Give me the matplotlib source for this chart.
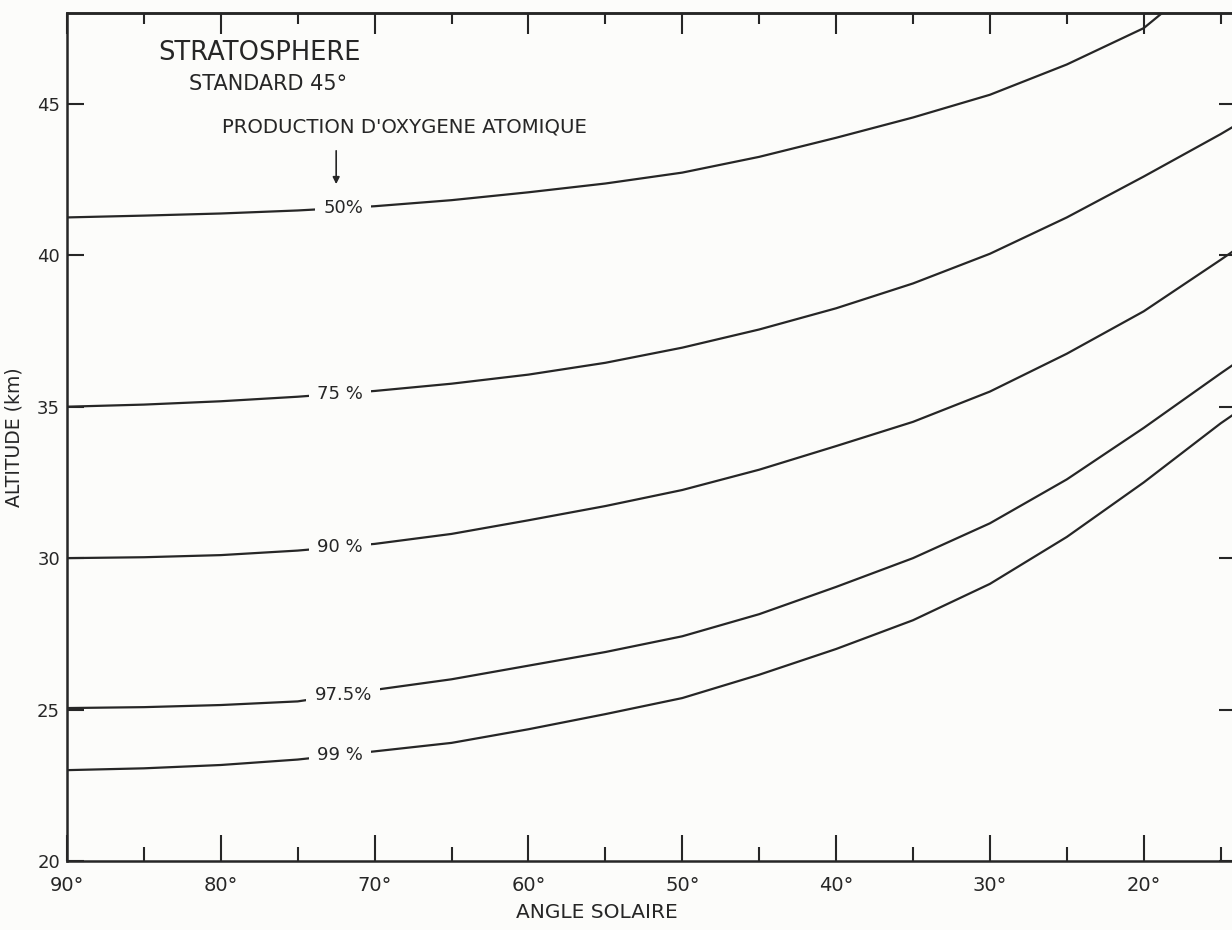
import numpy as np
import matplotlib
matplotlib.use("Agg")
import matplotlib.pyplot as plt

# ---- data ----
angles = [90, 85, 80, 75, 70, 65, 60, 55, 50, 45, 40, 35, 30, 25, 20, 18.8, 15, 14]
alt_50 = [41.25, 41.31, 41.38, 41.48, 41.62, 41.82, 42.08, 42.37, 42.73, 43.25, 43.88, 44.55,
          45.3, 46.3, 47.5, 48.0, None, None]
alt_75 = [35.0, 35.07, 35.18, 35.33, 35.52, 35.76, 36.06, 36.45, 36.95, 37.55, 38.25, 39.07,
          40.05, 41.25, 42.6, None, 44.0, 44.3]
alt_90 = [30.0, 30.03, 30.1, 30.25, 30.47, 30.8, 31.25, 31.72, 32.25, 32.92, 33.7, 34.5,
          35.5, 36.75, 38.15, None, 39.85, 40.2]
alt_975 = [25.05, 25.08, 25.15, 25.27, 25.65, 26.0, 26.45, 26.9, 27.42, 28.15, 29.05, 30.0,
           31.15, 32.6, 34.3, None, 36.1, 36.45]
alt_99 = [23.0, 23.06, 23.17, 23.35, 23.62, 23.9, 24.35, 24.85, 25.38, 26.15, 27.0, 27.95,
          29.15, 30.7, 32.5, None, 34.45, 34.8]
series = [alt_50, alt_75, alt_90, alt_975, alt_99]
curve_labels = ["50%", "75 %", "90 %", "97.5%", "99 %"]
label_x = [72.05, 72.25, 72.25, 72.05, 72.25]

x_major = [90, 80, 70, 60, 50, 40, 30, 20]
x_minor = [85, 75, 65, 55, 45, 35, 25, 15]
x_ticklabels = ["90°", "80°", "70°", "60°", "50°", "40°", "30°", "20°"]
y_major = [20, 25, 30, 35, 40, 45]

title1 = "STRATOSPHERE"
title2 = "STANDARD 45°"
title3 = "PRODUCTION D'OXYGENE ATOMIQUE"
xlabel = "ANGLE SOLAIRE"
ylabel = "ALTITUDE (km)"

# ---- styling ----
BG = "#fcfcfa"
INK = "#262626"
W, H = 1232, 930
DPI = 100
plt.rcParams['font.family'] = ['DejaVu Sans']

fig = plt.figure(figsize=(W / DPI, H / DPI), dpi=DPI, facecolor=BG)
left_px, right_px, top_px, bot_px = 67, 1236, 13, 861
ax = fig.add_axes([left_px / W, 1 - bot_px / H, (right_px - left_px) / W, (bot_px - top_px) / H])
ax.set_facecolor(BG)
ax.set_xlim(90, 14)
ax.set_ylim(20, 48)

for s in series:
    xs = [a for a, v in zip(angles, s) if v is not None]
    ys = [v for v in s if v is not None]
    ax.plot(xs, ys, color=INK, lw=1.6, solid_joinstyle='round', solid_capstyle='butt',
            zorder=2)

for s, lab, lx in zip(series, curve_labels, label_x):
    xs = [a for a, v in zip(angles, s) if v is not None][::-1]
    ys = [v for v in s if v is not None][::-1]
    ly = np.interp(lx, xs, ys)
    ax.text(lx, ly, lab, ha='center', va='center', fontsize=13, color=INK, zorder=3,
            bbox=dict(boxstyle='square,pad=0.45', fc=BG, ec='none'))

for sp in ax.spines.values():
    sp.set_linewidth(1.8)
    sp.set_color(INK)

ax.set_xticks(x_major)
ax.set_xticklabels(x_ticklabels, fontsize=14, color=INK)
ax.set_xticks(x_minor, minor=True)
ax.set_yticks(y_major)
ax.set_yticklabels([str(v) for v in y_major], fontsize=13, color=INK)
ax.tick_params(axis='x', which='major', direction='in', length=19, width=1.5, color=INK,
               top=False, pad=11)
ax.tick_params(axis='x', which='minor', direction='in', length=10, width=1.5, color=INK,
               top=False)
ax.tick_params(axis='y', which='major', direction='in', length=12, width=1.5, color=INK,
               right=True, pad=5)

# top ticks (shorter than bottom ones in the reference)
sec = ax.secondary_xaxis('top')
sec.set_xticks(x_major)
sec.set_xticks(x_minor, minor=True)
sec.set_xticklabels([])
sec.tick_params(axis='x', which='major', direction='in', length=15, width=1.5, color=INK)
sec.tick_params(axis='x', which='minor', direction='in', length=8, width=1.5, color=INK)
sec.spines['top'].set_linewidth(1.8)
sec.spines['top'].set_color(INK)

ax.set_xlabel(xlabel, fontsize=14.5, color=INK)
ax.xaxis.set_label_coords((597 - left_px) / (right_px - left_px), -0.05)
ax.set_ylabel(ylabel, fontsize=13.5, color=INK)
ax.yaxis.set_label_coords((24 - left_px) / (right_px - left_px), 0.5)

ax.text(84.08, 46.68, title1, ha='left', va='center', fontsize=18.5, color=INK)
ax.text(82.07, 45.66, title2, ha='left', va='center', fontsize=15, color=INK)
ax.text(79.92, 44.24, title3, ha='left', va='center', fontsize=14.2, color=INK)
ax.annotate('', xy=(72.5, 42.35), xytext=(72.5, 43.45),
            arrowprops=dict(arrowstyle='-|>', lw=1.2, color=INK, mutation_scale=10,
                            shrinkA=0, shrinkB=0))

fig.savefig("out.png", dpi=DPI, facecolor=BG)
